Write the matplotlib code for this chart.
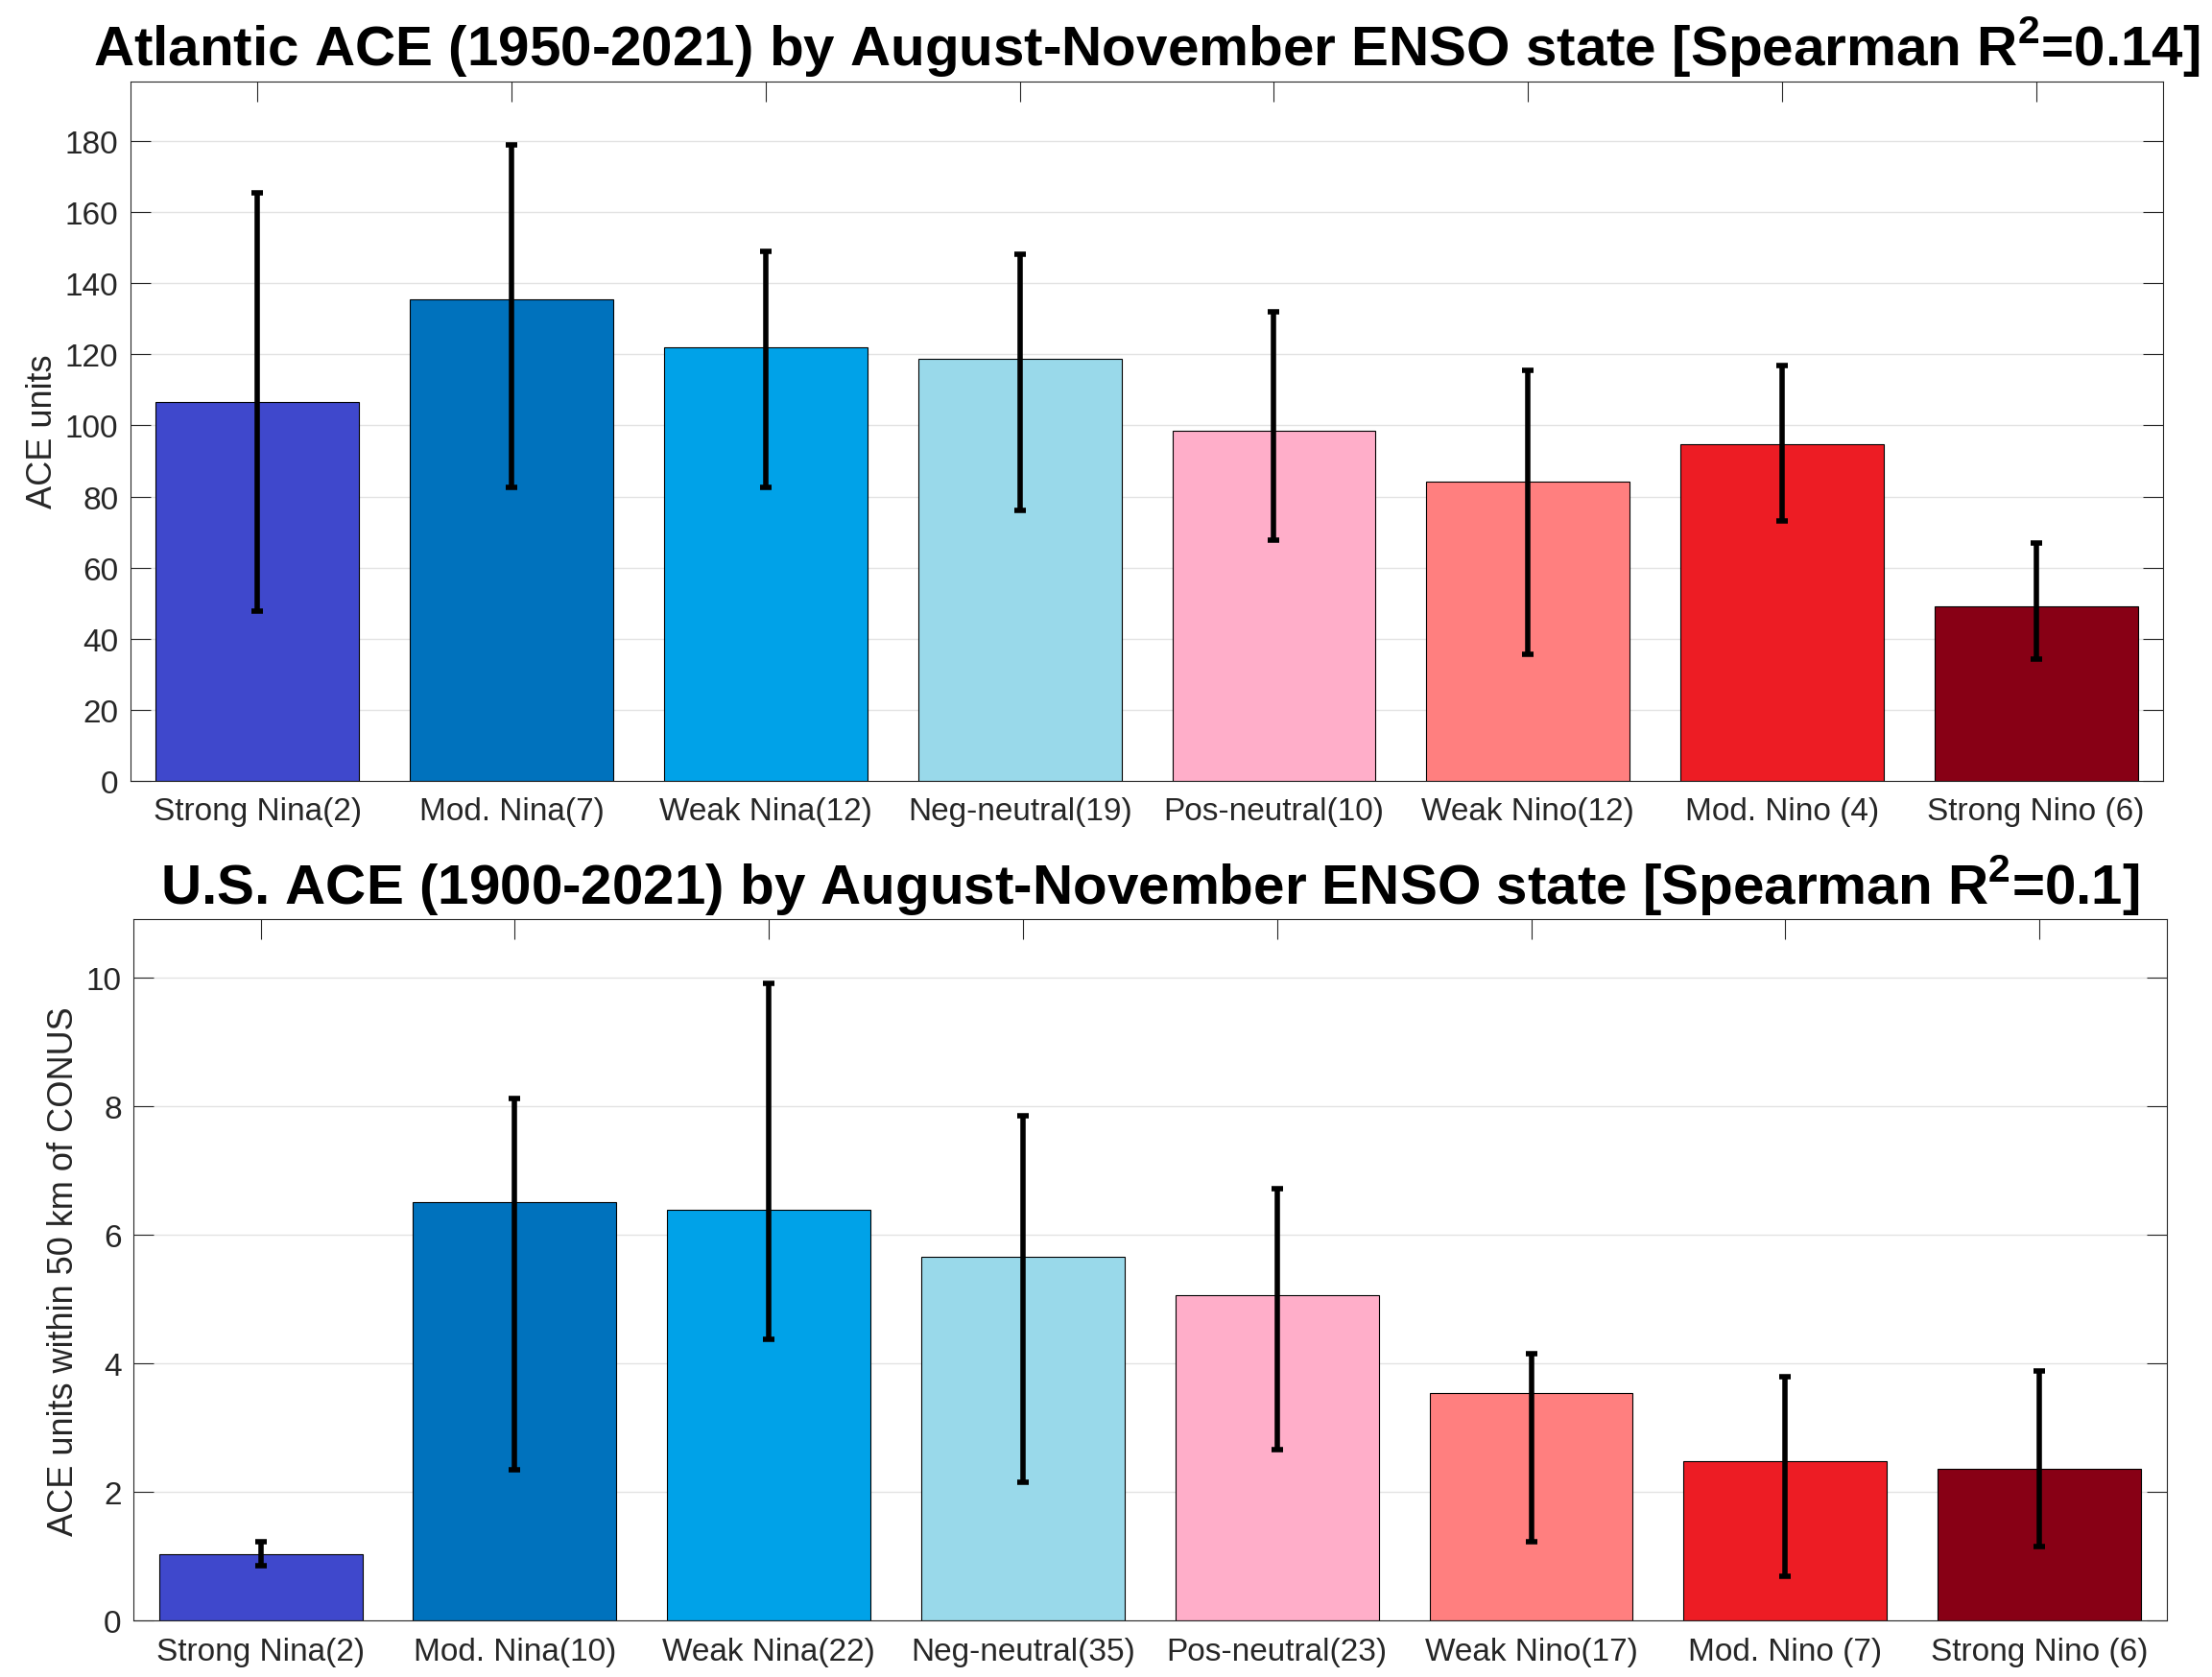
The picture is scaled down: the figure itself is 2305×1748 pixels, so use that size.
import matplotlib
matplotlib.use("Agg")
import matplotlib.pyplot as plt
import numpy as np

plt.rcParams["font.family"] = ["Liberation Sans", "DejaVu Sans"]
plt.rcParams["mathtext.fontset"] = "custom"
plt.rcParams["mathtext.rm"] = "Liberation Sans"
plt.rcParams["mathtext.bf"] = "Liberation Sans:bold"

# ENSO categories and bar colours
colors = ["#3F48CC", "#0072BD", "#00A2E8", "#99D9EA",
          "#FFAEC9", "#FF7F7F", "#ED1C24", "#880015"]

atl_labels = ["Strong Nina(2)", "Mod. Nina(7)", "Weak Nina(12)", "Neg-neutral(19)",
              "Pos-neutral(10)", "Weak Nino(12)", "Mod. Nino (4)", "Strong Nino (6)"]
atl_mean = [106.6, 135.4, 121.9, 118.7, 98.6, 84.2, 94.8, 49.1]
atl_low = [47.7, 82.6, 82.5, 76.2, 67.6, 35.7, 73.0, 34.1]
atl_high = [165.4, 179.0, 148.9, 148.1, 131.9, 115.5, 117.0, 66.8]

us_labels = ["Strong Nina(2)", "Mod. Nina(10)", "Weak Nina(22)", "Neg-neutral(35)",
             "Pos-neutral(23)", "Weak Nino(17)", "Mod. Nino (7)", "Strong Nino (6)"]
us_mean = [1.03, 6.51, 6.40, 5.67, 5.06, 3.55, 2.49, 2.36]
us_low = [0.85, 2.35, 4.38, 2.15, 2.66, 1.23, 0.70, 1.15]
us_high = [1.23, 8.13, 9.92, 7.86, 6.73, 4.16, 3.80, 3.88]


def draw_panel(ax, labels, mean, low, high, yticks, title, ylabel):
    x = np.arange(1, len(mean) + 1)
    mean = np.asarray(mean)
    yerr = [mean - np.asarray(low), np.asarray(high) - mean]
    ax.bar(x, mean, width=0.8, color=colors, edgecolor="black", linewidth=0.8, zorder=2)
    ax.errorbar(x, mean, yerr=yerr, fmt="none", ecolor="black", elinewidth=4,
                capsize=4, capthick=4, zorder=3)
    ax.set_xlim(0.5, len(mean) + 0.5)
    ax.set_ylim(0, 1.1 * max(high))
    ax.set_xticks(x)
    ax.set_xticklabels(labels)
    ax.set_yticks(yticks)
    ax.set_axisbelow(True)
    ax.yaxis.grid(True, color="#E3E3E3", linewidth=1.0)
    ax.tick_params(direction="in", length=15, width=0.8, color="#262626",
                   labelcolor="#262626", labelsize=24, top=True, right=True)
    ax.tick_params(axis="x", pad=12)
    ax.tick_params(axis="y", pad=9)
    for s in ax.spines.values():
        s.set_linewidth(0.8)
        s.set_color("#262626")
    ax.set_title(title, fontsize=42, fontweight="bold", pad=12)
    ax.set_ylabel(ylabel, fontsize=26, color="#262626")


fig = plt.figure(figsize=(23.05, 17.49), dpi=100)
ax1 = fig.add_axes([0.0590, 0.5342, 0.9189, 0.4168])
ax2 = fig.add_axes([0.0604, 0.0335, 0.9190, 0.4180])

draw_panel(ax1, atl_labels, atl_mean, atl_low, atl_high, np.arange(0, 181, 20),
           r"Atlantic ACE (1950-2021) by August-November ENSO state [Spearman R$^{\mathbf{2}}$=0.14]",
           "ACE units")
draw_panel(ax2, us_labels, us_mean, us_low, us_high, np.arange(0, 11, 2),
           r"U.S. ACE (1900-2021) by August-November ENSO state [Spearman R$^{\mathbf{2}}$=0.1]",
           "ACE units within 50 km of CONUS")

fig.savefig("out.png", dpi=100)
